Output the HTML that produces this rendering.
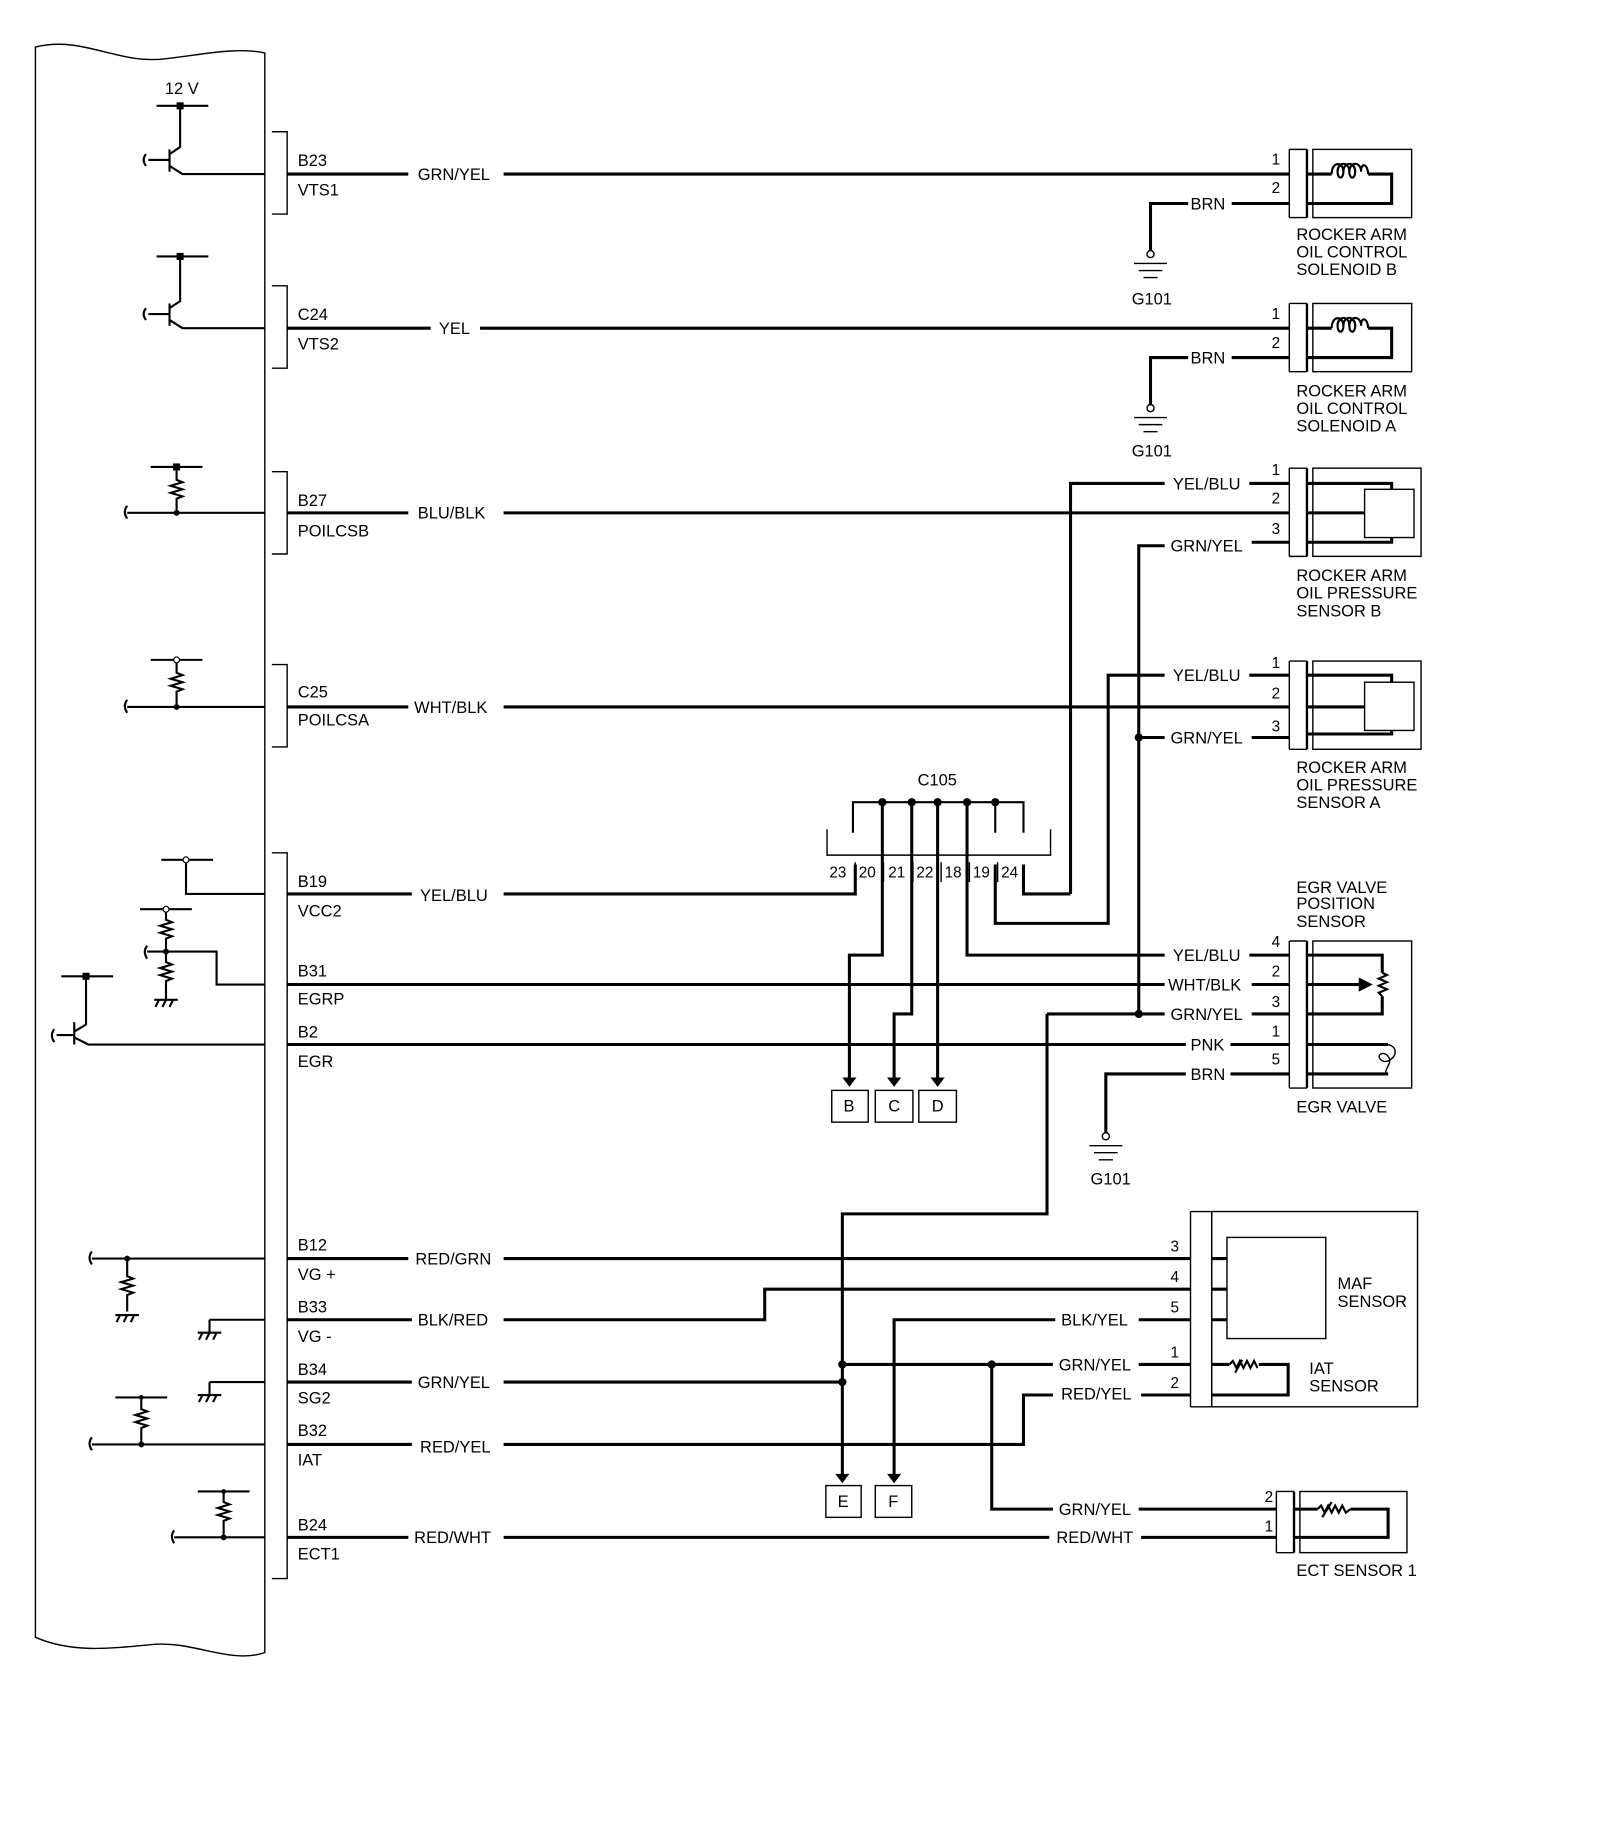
<!DOCTYPE html>
<html><head><meta charset="utf-8"><style>
html,body{margin:0;padding:0;background:#fff}
svg{display:block}
text{font-family:"Liberation Sans",Arial,sans-serif;font-size:14px;fill:#000}
.w{stroke:#000;stroke-width:2.6;fill:none}
.t{stroke:#000;stroke-width:1.2;fill:none}
.m{stroke:#000;stroke-width:1.8;fill:none}
</style></head><body>
<svg width="1600" height="1842" viewBox="0 0 1360 1566" xmlns="http://www.w3.org/2000/svg">
<path class="t" d="M30 40 C70 30 100 55 140 50 C175 46 200 40 225 45 L225 1405 C195 1415 165 1395 130 1398 C90 1402 60 1405 30 1392 Z"/>
<g class="t">
<path d="M231 112 H244 V182 H231"/>
<path d="M231 243 H244 V313 H231"/>
<path d="M231 401 H244 V471 H231"/>
<path d="M231 565 H244 V635 H231"/>
<path d="M231 725 H244 V1342 H231"/>
</g>
<g>
<text x="253" y="141">B23</text><text x="253" y="166">VTS1</text>
<text x="253" y="272">C24</text><text x="253" y="297">VTS2</text>
<text x="253" y="430">B27</text><text x="253" y="456">POILCSB</text>
<text x="253" y="593">C25</text><text x="253" y="617">POILCSA</text>
<text x="253" y="754">B19</text><text x="253" y="779">VCC2</text>
<text x="253" y="830">B31</text><text x="253" y="854">EGRP</text>
<text x="253" y="882">B2</text><text x="253" y="907">EGR</text>
<text x="253" y="1063">B12</text><text x="253" y="1088">VG +</text>
<text x="253" y="1116">B33</text><text x="253" y="1141">VG -</text>
<text x="253" y="1169">B34</text><text x="253" y="1193">SG2</text>
<text x="253" y="1221">B32</text><text x="253" y="1246">IAT</text>
<text x="253" y="1301">B24</text><text x="253" y="1326">ECT1</text>
</g>
<g class="m">
<path d="M133 90 H177"/><path d="M153 90 V125 L144 131"/><path d="M144 127 V146"/><path d="M144 141 L155 148 H225"/><path d="M126 136 H144"/><path d="M124 131 q-4 5 0 10"/>
<path d="M133 218 H177"/><path d="M153 218 V256 L144 262"/><path d="M144 258 V277"/><path d="M144 272 L155 279 H225"/><path d="M126 267 H144"/><path d="M124 262 q-4 5 0 10"/>
<path d="M128 397 H172"/><path d="M150 397 V408 l5 2 l-10 3 l10 3 l-10 3 l10 3 l-5 2 V436"/><path d="M108 436 H225"/><path d="M108 430 q-4 5 0 11"/>
<path d="M128 561 H172"/><path d="M150 561 V572 l5 2 l-10 3 l10 3 l-10 3 l10 3 l-5 2 V601"/><path d="M108 601 H225"/><path d="M108 595 q-4 5 0 11"/>
<path d="M137 731 H181"/><path d="M158 731 V760 H225"/>
<path d="M119 773 H163"/><path d="M141 773 V782 l5 2 l-10 3 l10 3 l-10 3 l10 3 l-5 2 V809"/><path d="M125 809 H184 V837 H225"/><path d="M125 804 q-4 5 0 11"/>
<path d="M141 809 V818 l5 2 l-10 3 l10 3 l-10 3 l10 3 l-5 2 V850"/><path d="M131 850 H151"/><path d="M135 850 l-3 6 M141 850 l-3 6 M147 850 l-3 6"/>
<path d="M52 830 H96"/><path d="M73 830 V871 L63 877"/><path d="M63 869 V888"/><path d="M63 882 L75 888 H225"/><path d="M48 880 H63"/><path d="M46 875 q-4 5 0 11"/>
<path d="M78 1070 H225"/><path d="M78 1064 q-4 5 0 11"/><path d="M108 1070 V1085 l5 2 l-10 3 l10 3 l-10 3 l10 3 l-5 2 V1115"/><path d="M98 1118 H118"/><path d="M102 1118 l-3 6 M108 1118 l-3 6 M114 1118 l-3 6"/>
<path d="M178 1122 H225"/><path d="M178 1122 V1133"/><path d="M168 1133 H188"/><path d="M172 1133 l-3 6 M178 1133 l-3 6 M184 1133 l-3 6"/>
<path d="M178 1175 H225"/><path d="M178 1175 V1186"/><path d="M168 1186 H188"/><path d="M172 1186 l-3 6 M178 1186 l-3 6 M184 1186 l-3 6"/>
<path d="M98 1188 H142"/><path d="M120 1188 V1198 l5 2 l-10 3 l10 3 l-10 3 l10 3 l-5 2 V1228"/><path d="M78 1228 H225"/><path d="M78 1222 q-4 5 0 11"/>
<path d="M168 1268 H212"/><path d="M190 1268 V1277 l5 2 l-10 3 l10 3 l-10 3 l10 3 l-5 2 V1307"/><path d="M148 1307 H225"/><path d="M148 1301 q-4 5 0 11"/>
</g>
<g>
<rect x="150" y="87" width="6" height="6"/><rect x="150" y="215" width="6" height="6"/><rect x="147" y="394" width="6" height="6"/><rect x="70" y="827" width="6" height="6"/>
<circle cx="150" cy="436" r="2.5"/><circle cx="150" cy="601" r="2.5"/><circle cx="141" cy="809" r="2.5"/><circle cx="108" cy="1070" r="2.5"/><circle cx="120" cy="1228" r="2.5"/><circle cx="190" cy="1307" r="2.5"/><circle cx="120" cy="1188" r="2"/><circle cx="190" cy="1268" r="2"/>
<circle cx="150" cy="561" r="2.5" fill="#fff" stroke="#000"/><circle cx="158" cy="731" r="2.5" fill="#fff" stroke="#000"/><circle cx="141" cy="773" r="2.5" fill="#fff" stroke="#000"/>
</g>
<text x="140" y="80">12 V</text>
<g class="w">
<path d="M244 148 H347 M428 148 H1096"/>
<path d="M244 279 H366 M408 279 H1096"/>
<path d="M244 436 H347 M428 436 H1096"/>
<path d="M244 601 H347 M428 601 H1096"/>
<path d="M244 760 H350 M428 760 H727 V735"/>
<path d="M244 837 H990 M1064 837 H1096"/>
<path d="M244 888 H1008 M1046 888 H1096"/>
<path d="M244 1070 H347 M428 1070 H1012"/>
<path d="M244 1122 H350 M428 1122 H650 V1096 H1012"/>
<path d="M244 1175 H350 M428 1175 H716"/>
<path d="M244 1228 H350 M428 1228 H870 V1186 H895 M970 1186 H1012"/>
<path d="M244 1307 H347 M428 1307 H892 M970 1307 H1085"/>
<path d="M978 213 V173 H1010 M1047 173 H1096"/>
<path d="M978 344 V304 H1010 M1047 304 H1096"/>
<path d="M940 963 V913 H1008 M1046 913 H1096"/>
<path d="M910 760 V411 H990 M1062 411 H1096"/>
<path d="M968 862 V464 H990 M1064 461 H1096"/>
<path d="M846 735 V785 H942 V574 H990 M1062 574 H1096"/>
<path d="M968 627 H990 M1064 627 H1096"/>
<path d="M870 735 V760 H910"/>
<path d="M750 682 V812 H722 V918"/>
<path d="M775 682 V862 H760 V918"/>
<path d="M797 682 V918"/>
<path d="M822 682 V812 H990 M1062 812 H1096"/>
<path d="M890 862 H990 M1064 862 H1096"/>
<path d="M890 862 V1032 H716 V1255"/>
<path d="M760 1255 V1122 H897 M968 1122 H1012"/>
<path d="M716 1160 H895 M968 1160 H1012"/>
<path d="M843 1160 V1283 H895 M968 1283 H1085"/>
</g>
<g class="m"><path d="M725 708 V682 H870 V708"/><path d="M775 682 V708 M750 682 V708 M797 682 V708 M822 682 V708 M846 682 V708"/></g>
<g><circle cx="750" cy="682" r="3.5"/><circle cx="775" cy="682" r="3.5"/><circle cx="797" cy="682" r="3.5"/><circle cx="822" cy="682" r="3.5"/><circle cx="846" cy="682" r="3.5"/>
<circle cx="968" cy="627" r="3.5"/><circle cx="968" cy="862" r="3.5"/><circle cx="716" cy="1160" r="3.5"/><circle cx="716" cy="1175" r="3.5"/><circle cx="843" cy="1160" r="3.5"/></g>
<path class="t" d="M703 705 V727 H893 V705"/>
<g class="t"><path d="M727 733 V750 M751 733 V750 M776 733 V750 M800 733 V750 M824 733 V750 M848 733 V750"/></g>
<text x="780" y="668">C105</text>
<g><text x="705" y="746" style="font-size:13px">23</text><text x="730" y="746" style="font-size:13px">20</text><text x="755" y="746" style="font-size:13px">21</text><text x="779" y="746" style="font-size:13px">22</text><text x="803" y="746" style="font-size:13px">18</text><text x="827" y="746" style="font-size:13px">19</text><text x="851" y="746" style="font-size:13px">24</text></g>
<g><path d="M716 916 l6 8 l6 -8 z"/><path d="M754 916 l6 8 l6 -8 z"/><path d="M791 916 l6 8 l6 -8 z"/><path d="M710 1253 l6 8 l6 -8 z"/><path d="M754 1253 l6 8 l6 -8 z"/></g>
<g class="t"><rect x="707" y="927" width="31" height="27"/><rect x="744" y="927" width="32" height="27"/><rect x="781" y="927" width="32" height="27"/><rect x="702" y="1263" width="30" height="27"/><rect x="744" y="1263" width="31" height="27"/></g>
<text x="717" y="945">B</text><text x="755" y="945">C</text><text x="792" y="945">D</text><text x="712" y="1281">E</text><text x="755" y="1281">F</text>
<g class="t">
<circle cx="978" cy="216" r="3" fill="#fff"/><path d="M964 224 H992 M968 230 H988 M972 236 H984"/>
<circle cx="978" cy="347" r="3" fill="#fff"/><path d="M964 355 H992 M968 361 H988 M972 367 H984"/>
<circle cx="940" cy="966" r="3" fill="#fff"/><path d="M926 974 H954 M930 980 H950 M934 986 H946"/>
</g>
<text x="962" y="259">G101</text><text x="962" y="388">G101</text><text x="927" y="1007">G101</text>
<g>
<text x="355" y="153">GRN/YEL</text><text x="373" y="284">YEL</text><text x="355" y="441">BLU/BLK</text><text x="352" y="606">WHT/BLK</text><text x="357" y="766">YEL/BLU</text>
<text x="353" y="1075">RED/GRN</text><text x="355" y="1127">BLK/RED</text><text x="355" y="1180">GRN/YEL</text><text x="357" y="1235">RED/YEL</text><text x="352" y="1312">RED/WHT</text>
<text x="1012" y="178">BRN</text><text x="1012" y="309">BRN</text>
<text x="997" y="416">YEL/BLU</text><text x="995" y="469">GRN/YEL</text><text x="997" y="579">YEL/BLU</text><text x="995" y="632">GRN/YEL</text>
<text x="997" y="817">YEL/BLU</text><text x="993" y="842">WHT/BLK</text><text x="995" y="867">GRN/YEL</text><text x="1012" y="893">PNK</text><text x="1012" y="918">BRN</text>
<text x="902" y="1127">BLK/YEL</text><text x="900" y="1165">GRN/YEL</text><text x="902" y="1190">RED/YEL</text><text x="900" y="1288">GRN/YEL</text><text x="898" y="1312">RED/WHT</text>
</g>
<!-- solenoid B -->
<g class="t"><path d="M1096 127 H1111 M1096 185 H1111 M1096 127 V185"/><rect x="1116" y="127" width="84" height="58"/><path d="M1111 127 V185" stroke-width="2"/></g>
<path class="w" d="M1111 148 H1132 M1163 148 H1183 V173 H1111"/>
<g class="m"><path d="M1132 148 C1132 137 1142 137 1142 146 M1137 146 C1137 137 1147 137 1147 146 M1142 146 C1142 137 1152 137 1152 146 M1147 146 C1147 137 1157 137 1157 146 C1157 137 1163 140 1163 148"/>
<ellipse cx="1139.5" cy="146" rx="2.5" ry="5"/><ellipse cx="1149.5" cy="146" rx="2.5" ry="5"/></g>
<!-- solenoid A -->
<g class="t"><path d="M1096 258 H1111 M1096 316 H1111 M1096 258 V316"/><rect x="1116" y="258" width="84" height="58"/><path d="M1111 258 V316" stroke-width="2"/></g>
<path class="w" d="M1111 279 H1132 M1163 279 H1183 V304 H1111"/>
<g class="m"><path d="M1132 279 C1132 268 1142 268 1142 277 M1137 277 C1137 268 1147 268 1147 277 M1142 277 C1142 268 1152 268 1152 277 M1147 277 C1147 268 1157 268 1157 277 C1157 268 1163 271 1163 279"/>
<ellipse cx="1139.5" cy="277" rx="2.5" ry="5"/><ellipse cx="1149.5" cy="277" rx="2.5" ry="5"/></g>
<!-- pressure sensor B -->
<g class="t"><path d="M1096 398 H1111 M1096 473 H1111 M1096 398 V473"/><rect x="1116" y="398" width="92" height="75"/><path d="M1111 398 V473" stroke-width="2"/><rect x="1160" y="416" width="42" height="41"/></g>
<path class="w" d="M1111 411 H1183 V416 M1111 436 H1160 M1111 461 H1183 V457"/>
<!-- pressure sensor A -->
<g class="t"><path d="M1096 562 H1111 M1096 637 H1111 M1096 562 V637"/><rect x="1116" y="562" width="92" height="75"/><path d="M1111 562 V637" stroke-width="2"/><rect x="1160" y="580" width="42" height="41"/></g>
<path class="w" d="M1111 574 H1183 V580 M1111 601 H1160 M1111 624 H1183 V621"/>
<!-- EGR -->
<g class="t"><path d="M1096 800 H1111 M1096 925 H1111 M1096 800 V925"/><rect x="1116" y="800" width="84" height="125"/><path d="M1111 800 V925" stroke-width="2"/></g>
<path class="w" d="M1111 812 H1175 V827 M1111 837 H1156 M1111 862 H1175 V847 M1111 888 H1180 M1111 913 H1180"/>
<path d="M1155 831 l12 6 l-12 6 z"/>
<path class="m" d="M1175 827 l4 2 l-7 3 l7 3 l-7 3 l7 3 l-7 3 l3 3"/>
<path class="t" d="M1180 888 c8 2 8 10 0 14 c-6 2 -10 -4 -6 -6 c4 -2 10 4 6 10 c-1 3 -4 6 -0 7"/>
<!-- MAF/IAT -->
<g class="t"><path d="M1012 1030 H1030 M1012 1196 H1030 M1030 1030 V1196"/><path d="M1012 1030 V1196"/><rect x="1030" y="1030" width="175" height="166"/><rect x="1043" y="1052" width="84" height="86"/></g>
<path class="w" d="M1030 1070 H1043 M1030 1096 H1043 M1030 1122 H1043 M1030 1160 H1045 M1070 1160 H1095 V1186 H1030"/>
<path class="m" d="M1045 1160 l3 -3 l3 6 l3 -6 l3 6 l3 -6 l3 6 l3 -6 l3 6 M1050 1167 l6 -11"/>
<!-- ECT -->
<g class="t"><path d="M1085 1268 H1100 M1085 1320 H1100 M1085 1268 V1320"/><rect x="1105" y="1268" width="91" height="52"/><path d="M1100 1268 V1320" stroke-width="2"/></g>
<path class="w" d="M1100 1283 H1120 M1148 1283 H1180 V1307 H1100"/>
<path class="m" d="M1120 1283 l3 -3 l3 6 l3 -6 l3 6 l3 -6 l3 6 l3 -6 l3 6 l4 -3 M1124 1290 l8 -13"/>
<g>
<text x="1081" y="140" style="font-size:13px">1</text><text x="1081" y="164" style="font-size:13px">2</text>
<text x="1081" y="271" style="font-size:13px">1</text><text x="1081" y="296" style="font-size:13px">2</text>
<text x="1081" y="404" style="font-size:13px">1</text><text x="1081" y="428" style="font-size:13px">2</text><text x="1081" y="454" style="font-size:13px">3</text>
<text x="1081" y="568" style="font-size:13px">1</text><text x="1081" y="594" style="font-size:13px">2</text><text x="1081" y="622" style="font-size:13px">3</text>
<text x="1081" y="805" style="font-size:13px">4</text><text x="1081" y="830" style="font-size:13px">2</text><text x="1081" y="856" style="font-size:13px">3</text><text x="1081" y="881" style="font-size:13px">1</text><text x="1081" y="905" style="font-size:13px">5</text>
<text x="995" y="1064" style="font-size:13px">3</text><text x="995" y="1090" style="font-size:13px">4</text><text x="995" y="1116" style="font-size:13px">5</text><text x="995" y="1154" style="font-size:13px">1</text><text x="995" y="1180" style="font-size:13px">2</text>
<text x="1075" y="1277" style="font-size:13px">2</text><text x="1075" y="1302" style="font-size:13px">1</text>
</g>
<g>
<text x="1102" y="204">ROCKER ARM</text><text x="1102" y="219">OIL CONTROL</text><text x="1102" y="234">SOLENOID B</text>
<text x="1102" y="337">ROCKER ARM</text><text x="1102" y="352">OIL CONTROL</text><text x="1102" y="367">SOLENOID A</text>
<text x="1102" y="494">ROCKER ARM</text><text x="1102" y="509">OIL PRESSURE</text><text x="1102" y="524">SENSOR B</text>
<text x="1102" y="657">ROCKER ARM</text><text x="1102" y="672">OIL PRESSURE</text><text x="1102" y="687">SENSOR A</text>
<text x="1102" y="759">EGR VALVE</text><text x="1102" y="773">POSITION</text><text x="1102" y="788">SENSOR</text>
<text x="1102" y="946">EGR VALVE</text>
<text x="1137" y="1096">MAF</text><text x="1137" y="1111">SENSOR</text>
<text x="1113" y="1168">IAT</text><text x="1113" y="1183">SENSOR</text>
<text x="1102" y="1340">ECT SENSOR 1</text>
</g>
</svg>
</body></html>
